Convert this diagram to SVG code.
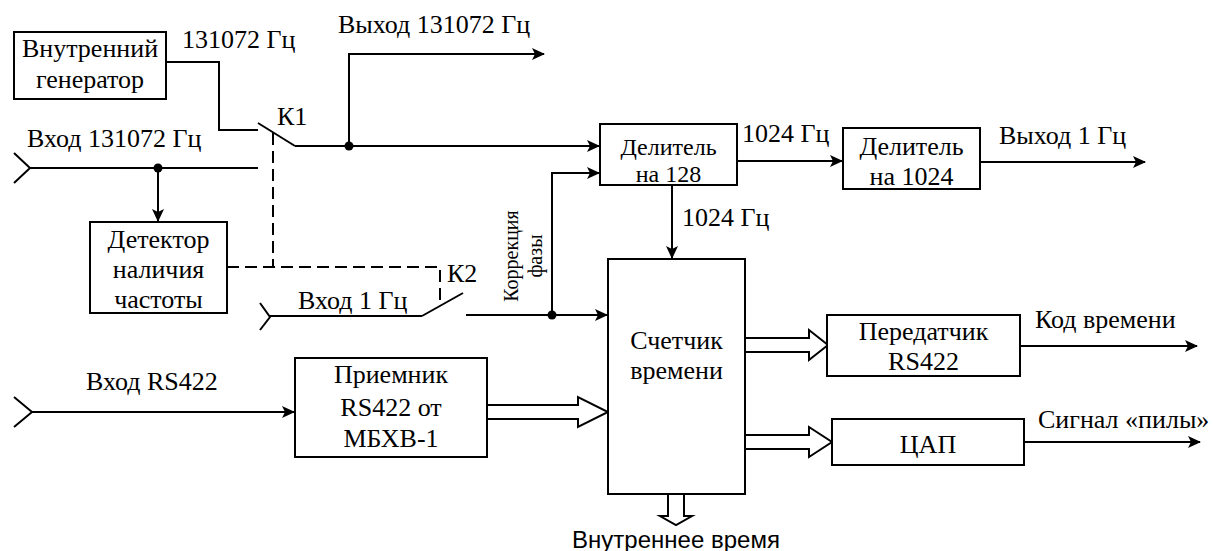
<svg xmlns="http://www.w3.org/2000/svg" width="1213" height="551" viewBox="0 0 1213 551">
<style>
.c{text-anchor:middle}
.k{font-size:20px}
.b{fill:#fff;stroke:#000;stroke-width:2}
.w{fill:none;stroke:#000;stroke-width:2}
.d{fill:none;stroke:#000;stroke-width:2;stroke-dasharray:12 6}
.h{fill:#fff;stroke:#000;stroke-width:2;stroke-linejoin:miter}
</style>
<defs>
<marker id="a" markerUnits="userSpaceOnUse" markerWidth="16" markerHeight="16" viewBox="-1 -8 16 16" refX="12" refY="0" orient="auto">
<path d="M0,-6 L13,0 L0,6 L3,0 Z" fill="#000"/>
</marker>
</defs>
<rect width="1213" height="551" fill="#fff"/>

<g id="connectors">
<polyline class="w" points="166,62 219,62 219,130 258,130"/>
<polyline class="w" points="14,153 30,168 14,183"/>
<line class="w" x1="30" y1="168" x2="258" y2="168"/>
<circle cx="158" cy="168" r="4.5" fill="#000"/>
<line class="w" x1="158" y1="168" x2="158" y2="221" marker-end="url(#a)"/>
<line class="w" x1="258" y1="123" x2="295" y2="146"/>
<line class="w" x1="295" y1="146" x2="599" y2="146" marker-end="url(#a)"/>
<circle cx="349" cy="146" r="4.5" fill="#000"/>
<polyline class="w" points="349,146 349,54 544,54" marker-end="url(#a)"/>
<polyline class="d" points="273,133 273,267"/>
<polyline class="d" points="227,267 440,267 440,306"/>
<polyline class="w" points="260,303 270,317 260,330"/>
<line class="w" x1="270" y1="316" x2="422" y2="316"/>
<line class="w" x1="422" y1="316" x2="463" y2="293"/>
<line class="w" x1="466" y1="315" x2="607" y2="315" marker-end="url(#a)"/>
<circle cx="552" cy="315" r="4.5" fill="#000"/>
<polyline class="w" points="552,315 552,173 599,173" marker-end="url(#a)"/>
<line class="w" x1="672" y1="185" x2="672" y2="258" marker-end="url(#a)"/>
<line class="w" x1="737" y1="161" x2="842" y2="161" marker-end="url(#a)"/>
<line class="w" x1="980" y1="162" x2="1145" y2="162" marker-end="url(#a)"/>
<polyline class="w" points="14,397 32,412 14,427"/>
<line class="w" x1="32" y1="412" x2="294" y2="412" marker-end="url(#a)"/>
<path class="h" d="M487,405 H578 V397 L608,412 L578,427 V419 H487 Z"/>
<path class="h" d="M745,338 H809 V330 L828,345 L809,360 V352 H745 Z"/>
<path class="h" d="M745,435 H809 V427 L832,442 L809,457 V449 H745 Z"/>
<path class="h" d="M668,494 V516 H660 L676,525 L692,516 H684 V494 Z"/>
<line class="w" x1="1020" y1="346" x2="1197" y2="346" marker-end="url(#a)"/>
<line class="w" x1="1024" y1="442" x2="1200" y2="442" marker-end="url(#a)"/>
</g>

<g font-family="Times New Roman, Liberation Serif, DejaVu Serif, serif" font-size="26" fill="#000">
<g id="gen">
<rect class="b" x="14" y="32" width="152" height="67"/>
<text class="c" x="90" y="57">Внутренний</text>
<text class="c" x="90" y="88">генератор</text>
</g>
<g id="det">
<rect class="b" x="90" y="222" width="137" height="91"/>
<text class="c" x="158.5" y="248">Детектор</text>
<text class="c" x="158.5" y="278">наличия</text>
<text class="c" x="158.5" y="308">частоты</text>
</g>
<g id="div128">
<rect class="b" x="600" y="124" width="137" height="61"/>
<text class="c" font-size="24" x="668.5" y="155">Делитель</text>
<text class="c" font-size="24" x="668.5" y="182">на 128</text>
</g>
<g id="div1024">
<rect class="b" x="843" y="128" width="137" height="61"/>
<text class="c" x="911.5" y="155">Делитель</text>
<text class="c" x="911.5" y="185">на 1024</text>
</g>
<g id="rx">
<rect class="b" x="295" y="358" width="192" height="99"/>
<text class="c" x="391" y="383">Приемник</text>
<text class="c" x="391" y="416">RS422 от</text>
<text class="c" x="391" y="447">МБХВ-1</text>
</g>
<g id="counter">
<rect class="b" x="608" y="259" width="137" height="235"/>
<text class="c" x="676.5" y="349">Счетчик</text>
<text class="c" x="676.5" y="379">времени</text>
</g>
<g id="tx">
<rect class="b" x="827" y="315" width="193" height="61"/>
<text class="c" x="923.5" y="340">Передатчик</text>
<text class="c" x="923.5" y="370">RS422</text>
</g>
<g id="dac">
<rect class="b" x="832" y="419" width="192" height="46"/>
<text class="c" x="928" y="453">ЦАП</text>
</g>
<g id="labels">
<text x="182" y="48">131072 Гц</text>
<text x="338" y="33">Выход 131072 Гц</text>
<text x="277" y="125">К1</text>
<text x="27" y="147">Вход 131072 Гц</text>
<text x="742" y="142">1024 Гц</text>
<text x="999" y="144">Выход 1 Гц</text>
<text x="682" y="226">1024 Гц</text>
<text x="447" y="282">К2</text>
<text x="298" y="309">Вход 1 Гц</text>
<text x="86" y="390">Вход RS422</text>
<text x="1035" y="328">Код времени</text>
<text x="1038" y="428">Сигнал «пилы»</text>
<text class="c" font-family="Liberation Sans, Arial, sans-serif" font-size="24" x="676" y="548">Внутреннее время</text>
<text class="c k" transform="translate(518,256) rotate(-90)">Коррекция</text>
<text class="c k" transform="translate(542,256) rotate(-90)">фазы</text>
</g>
</g>
</svg>
